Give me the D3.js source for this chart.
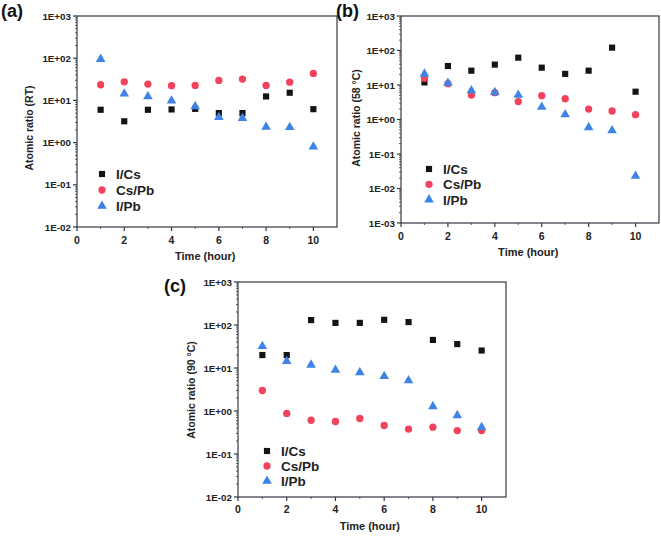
<!DOCTYPE html>
<html>
<head>
<meta charset="utf-8">
<script src="https://cdn.jsdelivr.net/npm/d3@7"></script>
<style>
  body { margin: 0; background: #fff; }
  svg { display: block; font-family: "Liberation Sans", Arial, sans-serif; }
</style>
</head>
<body>
<div id="chart"></div>
<script>
// time points (hour)
const hours = [1, 2, 3, 4, 5, 6, 7, 8, 9, 10];
const seriesNames = ["I/Cs", "Cs/Pb", "I/Pb"];

// (a) RT
const rtICs  = [6.0, 3.2, 6.0, 6.1, 6.3, 5.0, 5.0, 12.4, 15.2, 6.2];
const rtCsPb = [23.5, 27.6, 24.4, 22.3, 22.7, 29.7, 32, 22.6, 27, 43.5];
const rtIPb  = [95, 14.4, 12.4, 9.8, 7.2, 4.0, 3.8, 2.35, 2.3, 0.8];

// (b) 58 °C
const t58ICs  = [11.9, 35.5, 26, 39, 62, 31.8, 21, 26, 121, 6.4];
const t58CsPb = [15.6, 10.9, 5.1, 6.0, 3.3, 4.9, 4.0, 2.0, 1.76, 1.38];
const t58IPb  = [21, 11.4, 6.9, 6.1, 5.1, 2.3, 1.4, 0.59, 0.48, 0.023];

// (c) 90 °C
const t90ICs  = [20, 20, 130, 112, 112, 132, 117, 45, 36, 25.5];
const t90CsPb = [3.0, 0.88, 0.61, 0.57, 0.67, 0.46, 0.38, 0.42, 0.35, 0.35];
const t90IPb  = [32, 14.3, 11.8, 9, 7.9, 6.4, 5.1, 1.28, 0.79, 0.42];

const xTicks = [0, 2, 4, 6, 8, 10];

const colors = ["#141414", "#f2435d", "#3d84e6"];
const frameColor = "#333a44";

const svg = d3.select("#chart").append("svg")
  .attr("width", 661)
  .attr("height", 536);

function fmtExp(v) {
  const e = Math.round(Math.log10(v));
  return "1E" + (e < 0 ? "-" : "+") + String(Math.abs(e)).padStart(2, "0");
}

function drawPanel(p) {
  const g = svg.append("g");
  const x = d3.scaleLinear().domain([0, 11]).range([p.left, p.right]);
  const y = d3.scaleLog().domain(p.yDomain).range([p.bottom, p.top]);

  // frame
  g.append("rect")
    .attr("x", p.left).attr("y", p.top)
    .attr("width", p.right - p.left).attr("height", p.bottom - p.top)
    .attr("fill", "none").attr("stroke", frameColor).attr("stroke-width", 1.2);

  // y ticks (log)
  const lo = Math.round(Math.log10(p.yDomain[0])), hi = Math.round(Math.log10(p.yDomain[1]));
  for (let e = lo; e <= hi; e++) {
    const v = Math.pow(10, e);
    g.append("line")
      .attr("x1", p.left - 4).attr("x2", p.left)
      .attr("y1", y(v)).attr("y2", y(v))
      .attr("stroke", frameColor).attr("stroke-width", 1.2);
    g.append("text")
      .attr("x", p.left - 6).attr("y", y(v) + 3.5)
      .attr("text-anchor", "end")
      .attr("font-size", 9.8).attr("font-weight", "bold")
      .attr("fill", "#222")
      .text(fmtExp(v));
    if (e < hi) {
      for (let m = 2; m <= 9; m++) {
        g.append("line")
          .attr("x1", p.left - 2).attr("x2", p.left)
          .attr("y1", y(m * v)).attr("y2", y(m * v))
          .attr("stroke", frameColor).attr("stroke-width", 0.8);
      }
    }
  }

  // x ticks
  xTicks.forEach(t => {
    g.append("line")
      .attr("x1", x(t)).attr("x2", x(t))
      .attr("y1", p.bottom).attr("y2", p.bottom + 4)
      .attr("stroke", frameColor).attr("stroke-width", 1.2);
    g.append("text")
      .attr("x", x(t)).attr("y", p.tickY)
      .attr("text-anchor", "middle")
      .attr("font-size", 10.5).attr("font-weight", "bold")
      .attr("fill", "#222")
      .text(t);
  });
  [1, 3, 5, 7, 9].forEach(t => {
    g.append("line")
      .attr("x1", x(t)).attr("x2", x(t))
      .attr("y1", p.bottom).attr("y2", p.bottom + 2)
      .attr("stroke", frameColor).attr("stroke-width", 0.8);
  });

  // axis titles
  g.append("text")
    .attr("x", (x(0) + x(10)) / 2 + 10).attr("y", p.titleY)
    .attr("text-anchor", "middle")
    .attr("font-size", 11).attr("font-weight", "bold")
    .attr("fill", "#222")
    .text("Time (hour)");
  g.append("text")
    .attr("transform", `translate(${p.yTitleX},${p.yTitleY}) rotate(-90)`)
    .attr("text-anchor", "middle")
    .attr("font-size", 10.5).attr("font-weight", "bold")
    .attr("fill", "#222")
    .text(p.yTitle);

  // panel label
  g.append("text")
    .attr("x", p.labelX).attr("y", p.labelY)
    .attr("font-size", 18).attr("font-weight", "bold")
    .attr("fill", "#111")
    .text(p.label);

  // markers
  const sq = d3.symbol().type(d3.symbolSquare).size(38);
  const ci = d3.symbol().type(d3.symbolCircle).size(42);
  const tr = d3.symbol().type(d3.symbolTriangle).size(40);
  const shapes = [sq, ci, tr];

  // draw order: I/Cs, Cs/Pb, I/Pb
  p.series.forEach((vals, si) => {
    g.selectAll(null)
      .data(hours.map((h, i) => ({ h: h, v: vals[i] })))
      .join("path")
      .attr("d", shapes[si])
      .attr("transform", d => `translate(${x(d.h)},${y(d.v)})`)
      .attr("fill", colors[si]);
  });

  // legend
  seriesNames.forEach((name, si) => {
    const ly = p.legendY + si * p.legendStep;
    g.append("path")
      .attr("d", shapes[si])
      .attr("transform", `translate(${p.legendX},${ly})`)
      .attr("fill", colors[si]);
    g.append("text")
      .attr("x", p.legendX + 14).attr("y", ly + 5)
      .attr("font-size", 13.5).attr("font-weight", "bold")
      .attr("fill", "#222")
      .text(name);
  });
}

drawPanel({
  left: 77, right: 337, top: 16, bottom: 227,
  yDomain: [1e-2, 1e3], yTitle: "Atomic ratio (RT)",
  yTitleX: 33, yTitleY: 128, tickY: 244, titleY: 260,
  label: "(a)", labelX: 1, labelY: 17,
  legendX: 102, legendY: 174, legendStep: 16,
  series: [rtICs, rtCsPb, rtIPb]
});

drawPanel({
  left: 401, right: 659, top: 16, bottom: 223,
  yDomain: [1e-3, 1e3], yTitle: "Atomic ratio (58 °C)",
  yTitleX: 360, yTitleY: 118, tickY: 240, titleY: 256,
  label: "(b)", labelX: 336, labelY: 17,
  legendX: 429, legendY: 169, legendStep: 15.3,
  series: [t58ICs, t58CsPb, t58IPb]
});

drawPanel({
  left: 238, right: 506, top: 282, bottom: 497,
  yDomain: [1e-2, 1e3], yTitle: "Atomic ratio (90 °C)",
  yTitleX: 195, yTitleY: 390, tickY: 513, titleY: 530,
  label: "(c)", labelX: 164, labelY: 292,
  legendX: 267, legendY: 451, legendStep: 15,
  series: [t90ICs, t90CsPb, t90IPb]
});
</script>
</body>
</html>
